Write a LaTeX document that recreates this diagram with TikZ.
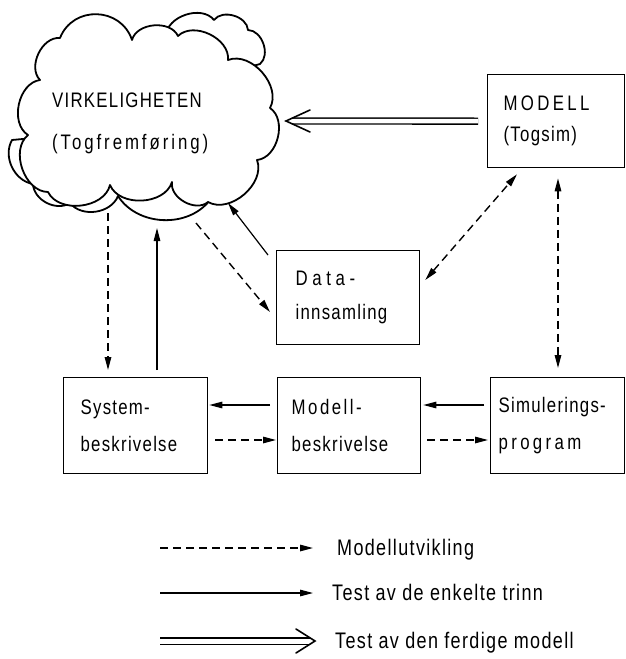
\documentclass[tikz,border=0pt]{standalone}
\usepackage{fontspec}
\setmainfont{Liberation Sans}[FakeStretch=0.8,LetterSpace=6]
\usetikzlibrary{arrows.meta}
\begin{document}
\begin{tikzpicture}[x=1pt,y=1pt,
  box/.style={draw,line width=1.3pt,anchor=north west,align=left,inner ysep=0pt},
  cl/.style={draw,fill=white,line width=1.8pt,line join=round},
  puff/.style={bend left=70},
  tip/.style={-{Triangle[length=13pt,width=6.5pt]}},
  tips/.style={{Triangle[length=13pt,width=6.5pt]}-{Triangle[length=13pt,width=6.5pt]}},
  dsh/.style={line width=1.4pt,dash pattern=on 8pt off 5pt},
  sld/.style={line width=1.2pt},
  dbl/.style={double,double distance=4.5pt,line width=1.4pt},
  chev/.style={line width=1.6pt,line cap=round,line join=miter},
  lbl/.style={anchor=base west,inner sep=0pt,font=\fontsize{22.5}{24}\selectfont}]
\useasboundingbox (0,0) rectangle (626,-659);
% cloud: back layers
\draw[cl] (170,-60) -- (166,-36) to[puff] (214,-20) to[puff] (248,-30) to[puff] (260,-64) -- (220,-75) -- cycle;
\draw[cl] (120,-130) -- (210,-200) to[bend left=55] (118,-196) to[bend left=60] (70,-203) to[bend left=60] (33,-184) to[bend left=55] (12,-140) -- cycle;
% cloud: front
\draw[cl] (28,-135) to[puff] (40,-80) to[puff] (60,-38) to[puff,looseness=1.25] (132,-40) to[puff] (178,-36) to[puff] (228,-60) to[puff] (270,-108) to[puff] (257,-160) to[puff] (208,-202) to[puff] (172,-182) to[puff] (110,-185) to[puff] (48,-192) to[puff] cycle;
\node[anchor=north west,align=left,inner sep=0pt,font=\fontsize{21}{42}\selectfont] (realtxt) at (52,-93) {VIRKELIGHETEN\\{\addfontfeature{LetterSpace=14}(Togfremføring)}};
% boxes
\node[box,minimum width=137pt,minimum height=93pt,text width=105pt,inner xsep=16pt,font=\fontsize{21}{31}\selectfont] (mod) at (487,-74) {{\addfontfeature{LetterSpace=16}MODELL}\\(Togsim)};
\node[box,minimum width=143pt,minimum height=94pt,text width=105pt,inner xsep=19pt,font=\fontsize{21}{34}\selectfont] (data) at (276,-250) {{\addfontfeature{LetterSpace=22}Data-}\\innsamling};
\node[box,minimum width=144pt,minimum height=96pt,text width=110pt,inner xsep=17pt,font=\fontsize{21}{37}\selectfont] (sys) at (63,-377) {System-\\beskrivelse};
\node[box,minimum width=143pt,minimum height=96pt,text width=115pt,inner xsep=14pt,font=\fontsize{21}{37}\selectfont] (modb) at (277,-377) {{\addfontfeature{LetterSpace=12}Modell-}\\beskrivelse};
\node[box,minimum width=134pt,minimum height=96pt,text width=118pt,inner xsep=8pt,font=\fontsize{21}{37}\selectfont] (sim) at (490,-377) {Simulerings-\\{\addfontfeature{LetterSpace=16}program}};
% cloud edge points
\coordinate (cA) at (286,-121);
\coordinate (cB) at (108,-213);
\coordinate (cC) at (157,-228);
\coordinate (cD) at (196,-223);
\coordinate (cE) at (228,-203);
% connectors
\draw[dbl] ([xshift=-9pt]mod.west) -- ([xshift=6pt]cA);
\draw[chev] ([shift={(24,11)}]cA) -- (cA) -- ([shift={(24,-11)}]cA);
\draw[dsh,tip] (cB) -- ([yshift=7pt]sys.north -| cB);
\draw[sld,tip] ([yshift=7pt]sys.north -| cC) -- (cC);
\draw[dsh,tip] (cD) -- ([xshift=-6pt,yshift=-62pt]data.north west);
\draw[sld,tip] ([xshift=-8pt,yshift=-5pt]data.north west) -- (cE);
\draw[dsh,tips] ([xshift=5pt,yshift=-30pt]data.north east) -- ([xshift=30pt,yshift=-6pt]mod.south west);
\draw[dsh,tips] ([xshift=71pt,yshift=-10pt]mod.south west) -- ([xshift=68pt,yshift=9pt]sim.north west);
\draw[sld,tip] ([xshift=-7pt,yshift=-28pt]modb.north west) -- ([xshift=1pt,yshift=-28pt]sys.north east);
\draw[sld,tip] ([xshift=-6pt,yshift=-28pt]sim.north west) -- ([xshift=2pt,yshift=-28pt]modb.north east);
\draw[dsh,tip] ([xshift=7pt,yshift=-63pt]sys.north east) -- ([xshift=-1pt,yshift=-63pt]modb.north west);
\draw[dsh,tip] ([xshift=6pt,yshift=-63pt]modb.north east) -- ([xshift=-2pt,yshift=-63pt]sim.north west);
% legend
\coordinate (l1a) at (160,-548); \coordinate (l1b) at (313,-548);
\coordinate (l2a) at (160,-593); \coordinate (l2b) at (313,-593);
\coordinate (l3a) at (160,-641); \coordinate (l3b) at (315,-641);
\draw[dsh,tip] (l1a) -- (l1b);
\draw[sld,tip] (l2a) -- (l2b);
\draw[dbl,double distance=5pt] (l3a) -- ([xshift=-5pt]l3b);
\draw[chev] ([shift={(-19,12)}]l3b) -- (l3b) -- ([shift={(-19,-12)}]l3b);
\node[lbl] (t1) at (337,-555) {Modellutvikling};
\node[lbl] (t2) at (332,-600) {Test av de enkelte trinn};
\node[lbl] (t3) at (335,-648) {Test av den ferdige modell};
\end{tikzpicture}
\end{document}
